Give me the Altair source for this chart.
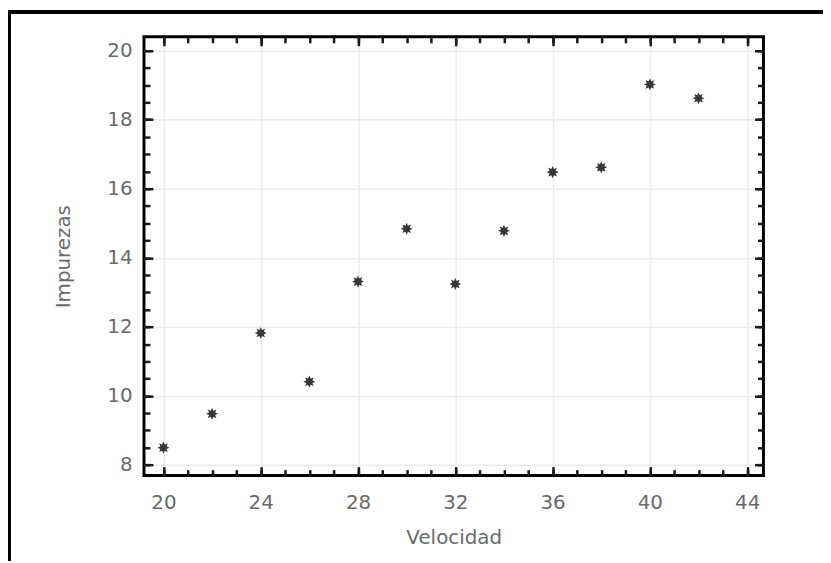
import math
import altair as alt
import pandas as pd

# ---- data ----
velocidad = [20, 22, 24, 26, 28, 30, 32, 34, 36, 38, 40, 42]
impurezas = [8.50, 9.48, 11.82, 10.41, 13.31, 14.84, 13.24, 14.78, 16.48, 16.62, 19.02, 18.62]

x_major = [20, 24, 28, 32, 36, 40, 44]
x_minor = list(range(19, 45))
y_major = [8, 10, 12, 14, 16, 18, 20]
y_minor = [v / 2 for v in range(16, 41)]

x_domain = [19.2, 44.67]
y_domain = [7.69, 20.4]

df = pd.DataFrame({"Velocidad": velocidad, "Impurezas": impurezas})

# 8-pointed star shape for the markers
pts = []
for k in range(16):
    r = 1.0 if k % 2 == 0 else 0.55
    a = math.pi * k / 8
    pts.append(f"{r * math.sin(a):.3f},{-r * math.cos(a):.3f}")
star = "M" + "L".join(pts) + "Z"

FONT = "DejaVu Sans"
GRAY = "#6a6a6a"
MAJ = alt.ExprRef(expr="-9")
MIN = alt.ExprRef(expr="-6")
TICKC = "#1a1a1a"

xs = alt.Scale(domain=x_domain, nice=False, zero=False)
ys = alt.Scale(domain=y_domain, nice=False, zero=False)

base = alt.Chart(df)

points = base.mark_point(
    shape=star, filled=True, color="#383838", size=150, opacity=1
).encode(
    x=alt.X("Velocidad:Q", scale=xs, axis=alt.Axis(
        orient="bottom", values=x_major, tickSize=MAJ, tickWidth=2.5, tickColor=TICKC,
        domain=False, grid=True, gridColor="#ebebeb", gridWidth=1.5,
        labelFont=FONT, labelFontSize=20, labelColor=GRAY, labelPadding=26,
        title="Velocidad", titleFont=FONT, titleFontSize=20, titleColor=GRAY,
        titleFontWeight="normal", titlePadding=15)),
    y=alt.Y("Impurezas:Q", scale=ys, axis=alt.Axis(
        orient="left", values=y_major, tickSize=MAJ, tickWidth=2.5, tickColor=TICKC,
        domain=False, grid=True, gridColor="#ebebeb", gridWidth=1.5,
        labelFont=FONT, labelFontSize=20, labelColor=GRAY, labelPadding=21,
        title="Impurezas", titleFont=FONT, titleFontSize=20, titleColor=GRAY,
        titleFontWeight="normal", titlePadding=34)),
)


def tick_layer(xorient, yorient, xvals, yvals, size):
    return base.mark_point(opacity=0).encode(
        x=alt.X("Velocidad:Q", scale=xs, axis=alt.Axis(
            orient=xorient, values=xvals, tickSize=size, tickWidth=2.5, tickColor=TICKC,
            domain=False, grid=False, labels=False, title=None)),
        y=alt.Y("Impurezas:Q", scale=ys, axis=alt.Axis(
            orient=yorient, values=yvals, tickSize=size, tickWidth=2.5, tickColor=TICKC,
            domain=False, grid=False, labels=False, title=None)),
    )


minor_bl = tick_layer("bottom", "left", x_minor, y_minor, MIN)
major_tr = tick_layer("top", "right", x_major, y_major, MAJ)
minor_tr = tick_layer("top", "right", x_minor, y_minor, MIN)

frame_data = alt.Data(values=[{"k": 1}])
top_line = alt.Chart(frame_data).mark_rule(color="black", strokeWidth=4).encode(
    x=alt.value(-140), x2=alt.value(700), y=alt.value(-25))
left_line = alt.Chart(frame_data).mark_rule(color="black", strokeWidth=4).encode(
    x=alt.value(-136), y=alt.value(-27), y2=alt.value(560))

chart = alt.layer(
    minor_bl, major_tr, minor_tr, points, top_line, left_line
).resolve_axis(
    x="independent", y="independent"
).properties(
    width=624, height=442,
    autosize=alt.AutoSizeParams(type="none"),
    padding={"left": 137, "top": 27, "right": 60, "bottom": 84},
    background="white",
).configure_view(
    stroke="black", strokeWidth=3
)

chart.save("out.html", embed_options={"renderer": "svg", "actions": False})
